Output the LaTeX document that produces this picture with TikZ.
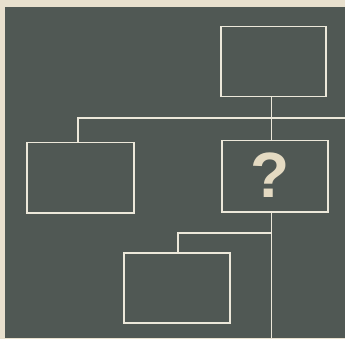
\documentclass[tikz,border=0pt]{standalone}
\usepackage{fontspec}
\setmainfont{Liberation Sans}
\definecolor{paper}{RGB}{232,224,206}
\definecolor{board}{RGB}{80,88,84}
\definecolor{chalk}{RGB}{236,232,218}
\definecolor{qmark}{RGB}{228,218,194}
\tikzset{
  box/.style={draw=chalk, line width=1.5pt, minimum width=105pt, minimum height=70pt, inner sep=0pt, anchor=north west},
  wire/.style={draw=chalk, line width=1.5pt}
}
\begin{document}
\begin{tikzpicture}[x=1pt,y=-1pt]
\useasboundingbox (0,0) rectangle (345,339);
\fill[paper] (0,0) rectangle (345,339);
\fill[board] (5,7) rectangle (345,337.5);
\node[box] (top) at (220,26) {};
\node[box, minimum width=106pt, minimum height=71pt] (q) at (221,140) {};
\node[box, minimum width=107pt, minimum height=70pt] (left) at (26,142) {};
\node[box, minimum width=106pt, minimum height=70pt] (bot) at (123,252) {};
\node[text=qmark, font=\bfseries\fontsize{64}{64}\selectfont, inner sep=0pt] (qm) at (270.5,175.5) {?};
\coordinate (jr) at (345,118);
\coordinate (jl) at (78,118);
\coordinate (jq) at (271.5,233);
\coordinate (jb) at (178,233);
\coordinate (end) at (271.5,337.5);
\draw[wire] (top.south -| end) -- (q.north -| end);
\draw[wire] (left.north -| jl) -- (jl) -- (jr);
\draw[wire] (q.south -| end) -- (end);
\draw[wire] (bot.north -| jb) -- (jb) -- (jq);
\end{tikzpicture}
\end{document}
